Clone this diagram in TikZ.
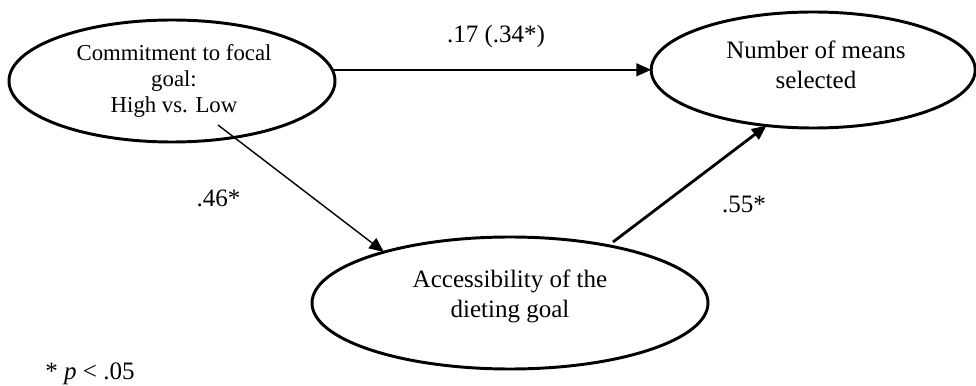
\documentclass[tikz,border=0pt]{standalone}
\usepackage{fontspec}
\setmainfont{Liberation Serif}
\usetikzlibrary{shapes.geometric,arrows.meta}
\begin{document}
\begin{tikzpicture}[
  goal/.style={draw, ellipse, line width=2.1pt, inner sep=0pt, outer sep=0pt},
  goaltext/.style={align=center, font=\fontsize{17.8}{21.3}\selectfont},
  coef/.style={anchor=base, font=\fontsize{17.8}{21.3}\selectfont},
  arr/.style={-{Triangle[length=10.5pt,width=9pt]}}]
  \useasboundingbox (0,0) rectangle (24.4,-9.65);
  % the three variables
  \node[goal, minimum width=8.15cm, minimum height=3.05cm] (commit) at (4.30,-2.025) {};
  \node[goal, minimum width=8.1cm, minimum height=2.9cm] (means) at (20.33,-1.75) {};
  \node[goal, minimum width=9.9cm, minimum height=3.3cm] (access) at (12.75,-7.575) {};
  \node[goaltext, font=\fontsize{16.2}{18.5}\selectfont] (committxt) at ([xshift=0.05cm]commit) {Commitment to focal\\goal:\\High vs. Low};
  \node[goaltext] (meanstxt) at ([xshift=0.07cm,yshift=0.125cm]means) {Number of means\\selected};
  \node[goaltext] (accesstxt) at ([yshift=0.175cm]access) {Accessibility of the\\dieting goal};
  % paths
  \coordinate (s1) at (5.45,-3.125);
  \coordinate (s2) at (15.325,-6.05);
  \draw[arr, line width=1.4pt] (commit.4) -- (commit.4 -| means.west);
  \draw[arr, line width=1pt] (s1) -- (access.158);
  \draw[arr, line width=2pt] (s2) -- (means.230);
  % coefficients
  \node[coef] (c17) at (12.4,-1.075) {.17 (.34*)};
  \node[coef] (c46) at (5.46,-5.175) {.46*};
  \node[coef] (c55) at (18.6,-5.325) {.55*};
  \node[coef] (note) at (2.25,-9.475) {* \textit{p} < .05};
\end{tikzpicture}
\end{document}
